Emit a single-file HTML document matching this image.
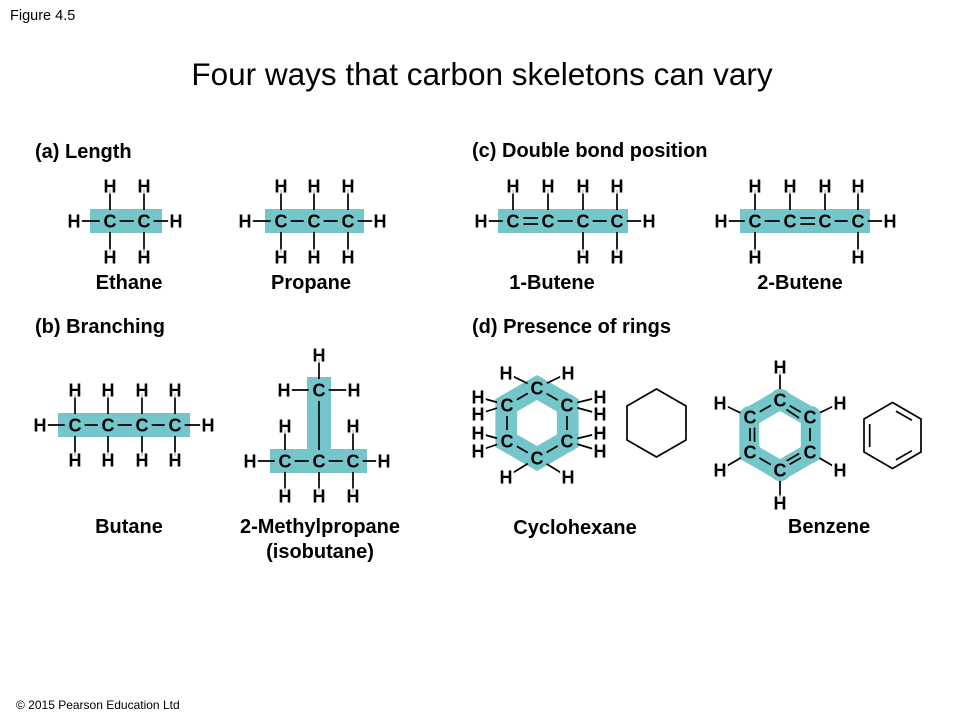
<!DOCTYPE html>
<html><head><meta charset="utf-8"><style>
html,body{margin:0;padding:0;background:#fff;}
svg{display:block;font-family:"Liberation Sans",sans-serif;}
.a{font-weight:bold;font-size:18px;text-anchor:middle;paint-order:stroke;stroke-width:5px;stroke-linejoin:round;}
.c{stroke:#74c6ca;stroke-width:9px;}
.h{stroke:#fff;}
.l{font-weight:bold;font-size:20px;}
.m{text-anchor:middle;}
line,polyline,polygon.k{stroke:#000;stroke-width:1.7;fill:none;}
</style></head><body>
<svg width="960" height="720" viewBox="0 0 960 720">
<text x="10" y="20" font-size="14.5">Figure 4.5</text>
<text x="482" y="85" font-size="31.5" text-anchor="middle">Four ways that carbon skeletons can vary</text>
<text x="35" y="158" class="l">(a) Length</text>
<text x="472" y="157" class="l">(c) Double bond position</text>
<text x="35" y="333" class="l">(b) Branching</text>
<text x="472" y="333" class="l">(d) Presence of rings</text>
<g fill="#74c6ca">
<rect x="90" y="209" width="72" height="24"/>
<rect x="265" y="209" width="99" height="24"/>
<rect x="498" y="209" width="130" height="24"/>
<rect x="740" y="209" width="130" height="24"/>
<rect x="58" y="413" width="132" height="24"/>
<rect x="307" y="377" width="24" height="96"/>
<rect x="270" y="449" width="97" height="24"/>
<path fill-rule="evenodd" d="M537,375 L578.6,399 L578.6,447 L537,471 L495.4,447 L495.4,399 Z M537,400 L556.9,411.5 L556.9,434.5 L537,446 L517.1,434.5 L517.1,411.5 Z"/>
<path fill-rule="evenodd" d="M780,388 L820.7,411.5 L820.7,458.5 L780,482 L739.3,458.5 L739.3,411.5 Z M780,411 L800.8,423 L800.8,447 L780,459 L759.2,447 L759.2,423 Z"/>
</g>
<g>
<line x1="74" y1="221" x2="176" y2="221"/>
<line x1="110" y1="186" x2="110" y2="257"/><line x1="144" y1="186" x2="144" y2="257"/>
<line x1="245" y1="221" x2="380" y2="221"/>
<line x1="281" y1="186" x2="281" y2="257"/><line x1="314" y1="186" x2="314" y2="257"/><line x1="348" y1="186" x2="348" y2="257"/>
<line x1="481" y1="221" x2="513" y2="221"/>
<line x1="513" y1="218" x2="548" y2="218"/><line x1="513" y1="224" x2="548" y2="224"/>
<line x1="548" y1="221" x2="649" y2="221"/>
<line x1="513" y1="186" x2="513" y2="221"/><line x1="548" y1="186" x2="548" y2="221"/>
<line x1="583" y1="186" x2="583" y2="257"/><line x1="617" y1="186" x2="617" y2="257"/>
<line x1="721" y1="221" x2="790" y2="221"/>
<line x1="790" y1="218" x2="825" y2="218"/><line x1="790" y1="224" x2="825" y2="224"/>
<line x1="825" y1="221" x2="890" y2="221"/>
<line x1="755" y1="186" x2="755" y2="257"/><line x1="790" y1="186" x2="790" y2="221"/>
<line x1="825" y1="186" x2="825" y2="221"/><line x1="858" y1="186" x2="858" y2="257"/>
<line x1="40" y1="425" x2="208" y2="425"/>
<line x1="75" y1="390" x2="75" y2="460"/><line x1="108" y1="390" x2="108" y2="460"/>
<line x1="142" y1="390" x2="142" y2="460"/><line x1="175" y1="390" x2="175" y2="460"/>
<line x1="319" y1="355" x2="319" y2="496"/>
<line x1="284" y1="390" x2="354" y2="390"/>
<line x1="250" y1="461" x2="384" y2="461"/>
<line x1="285" y1="426" x2="285" y2="496"/><line x1="353" y1="426" x2="353" y2="496"/>
<polygon class="k" points="537,388 567,405.5 567,440.5 537,458 507,440.5 507,405.5"/>
<line x1="537" y1="388" x2="506" y2="373"/><line x1="537" y1="388" x2="568" y2="373"/>
<line x1="507" y1="405" x2="478" y2="397"/><line x1="507" y1="405" x2="478" y2="414"/>
<line x1="507" y1="441" x2="478" y2="433"/><line x1="507" y1="441" x2="478" y2="451"/>
<line x1="567" y1="405" x2="600" y2="397"/><line x1="567" y1="405" x2="600" y2="414"/>
<line x1="567" y1="441" x2="600" y2="433"/><line x1="567" y1="441" x2="600" y2="451"/>
<line x1="537" y1="458" x2="506" y2="477"/><line x1="537" y1="458" x2="568" y2="477"/>
<polygon class="k" points="656.5,389 686,406 686,440 656.5,457 627,440 627,406"/>
<polygon class="k" points="780,400 810,417.5 810,452.5 780,470 750,452.5 750,417.5"/>
<line x1="786.4" y1="409.5" x2="799.1" y2="417.9"/>
<line x1="754.5" y1="427.6" x2="754.5" y2="442.4"/>
<line x1="786.4" y1="461" x2="799.1" y2="453.6"/>
<line x1="780" y1="367" x2="780" y2="400"/><line x1="780" y1="470" x2="780" y2="503"/>
<line x1="750" y1="417.5" x2="720" y2="403"/><line x1="810" y1="417.5" x2="840" y2="403"/>
<line x1="750" y1="452.5" x2="720" y2="470"/><line x1="810" y1="452.5" x2="840" y2="470"/>
<polygon class="k" points="892.5,402.5 921,419 921,452 892.5,468.5 864,452 864,419"/>
<line x1="869.7" y1="424" x2="869.7" y2="447"/>
<line x1="895.9" y1="411.1" x2="911.9" y2="420.3"/>
<line x1="895.9" y1="459.9" x2="911.9" y2="450.7"/>
</g>
<g class="a">
<text class="h" x="74" y="227.5">H</text><text class="h" x="176" y="227.5">H</text>
<text class="c" x="110" y="227.5">C</text><text class="c" x="144" y="227.5">C</text>
<text class="h" x="110" y="192.5">H</text><text class="h" x="144" y="192.5">H</text>
<text class="h" x="110" y="263.5">H</text><text class="h" x="144" y="263.5">H</text>
<text class="h" x="245" y="227.5">H</text><text class="h" x="380" y="227.5">H</text>
<text class="c" x="281" y="227.5">C</text><text class="c" x="314" y="227.5">C</text><text class="c" x="348" y="227.5">C</text>
<text class="h" x="281" y="192.5">H</text><text class="h" x="314" y="192.5">H</text><text class="h" x="348" y="192.5">H</text>
<text class="h" x="281" y="263.5">H</text><text class="h" x="314" y="263.5">H</text><text class="h" x="348" y="263.5">H</text>
<text class="h" x="481" y="227.5">H</text><text class="h" x="649" y="227.5">H</text>
<text class="c" x="513" y="227.5">C</text><text class="c" x="548" y="227.5">C</text><text class="c" x="583" y="227.5">C</text><text class="c" x="617" y="227.5">C</text>
<text class="h" x="513" y="192.5">H</text><text class="h" x="548" y="192.5">H</text><text class="h" x="583" y="192.5">H</text><text class="h" x="617" y="192.5">H</text>
<text class="h" x="583" y="263.5">H</text><text class="h" x="617" y="263.5">H</text>
<text class="h" x="721" y="227.5">H</text><text class="h" x="890" y="227.5">H</text>
<text class="c" x="755" y="227.5">C</text><text class="c" x="790" y="227.5">C</text><text class="c" x="825" y="227.5">C</text><text class="c" x="858" y="227.5">C</text>
<text class="h" x="755" y="192.5">H</text><text class="h" x="790" y="192.5">H</text><text class="h" x="825" y="192.5">H</text><text class="h" x="858" y="192.5">H</text>
<text class="h" x="755" y="263.5">H</text><text class="h" x="858" y="263.5">H</text>
<text class="h" x="40" y="431.5">H</text><text class="h" x="208" y="431.5">H</text>
<text class="c" x="75" y="431.5">C</text><text class="c" x="108" y="431.5">C</text><text class="c" x="142" y="431.5">C</text><text class="c" x="175" y="431.5">C</text>
<text class="h" x="75" y="396.5">H</text><text class="h" x="108" y="396.5">H</text><text class="h" x="142" y="396.5">H</text><text class="h" x="175" y="396.5">H</text>
<text class="h" x="75" y="466.5">H</text><text class="h" x="108" y="466.5">H</text><text class="h" x="142" y="466.5">H</text><text class="h" x="175" y="466.5">H</text>
<text class="h" x="319" y="361.5">H</text>
<text class="h" x="284" y="396.5">H</text><text class="c" x="319" y="396.5">C</text><text class="h" x="354" y="396.5">H</text>
<text class="h" x="285" y="432.5">H</text><text class="h" x="353" y="432.5">H</text>
<text class="h" x="250" y="467.5">H</text><text class="c" x="285" y="467.5">C</text><text class="c" x="319" y="467.5">C</text><text class="c" x="353" y="467.5">C</text><text class="h" x="384" y="467.5">H</text>
<text class="h" x="285" y="502.5">H</text><text class="h" x="319" y="502.5">H</text><text class="h" x="353" y="502.5">H</text>
<text class="c" x="537" y="394.5">C</text><text class="c" x="507" y="411.5">C</text><text class="c" x="567" y="411.5">C</text>
<text class="c" x="507" y="447.5">C</text><text class="c" x="567" y="447.5">C</text><text class="c" x="537" y="464.5">C</text>
<text class="h" x="506" y="379.5">H</text><text class="h" x="568" y="379.5">H</text>
<text class="h" x="478" y="403.5">H</text><text class="h" x="478" y="420.5">H</text>
<text class="h" x="478" y="439.5">H</text><text class="h" x="478" y="457.5">H</text>
<text class="h" x="600" y="403.5">H</text><text class="h" x="600" y="420.5">H</text>
<text class="h" x="600" y="439.5">H</text><text class="h" x="600" y="457.5">H</text>
<text class="h" x="506" y="483.5">H</text><text class="h" x="568" y="483.5">H</text>
<text class="c" x="780" y="406.5">C</text><text class="c" x="750" y="423.5">C</text><text class="c" x="810" y="423.5">C</text>
<text class="c" x="750" y="458.5">C</text><text class="c" x="810" y="458.5">C</text><text class="c" x="780" y="476.5">C</text>
<text class="h" x="780" y="373.5">H</text><text class="h" x="780" y="509.5">H</text>
<text class="h" x="720" y="409.5">H</text><text class="h" x="840" y="409.5">H</text>
<text class="h" x="720" y="476.5">H</text><text class="h" x="840" y="476.5">H</text>
</g>
<g class="l m">
<text x="129" y="289">Ethane</text>
<text x="311" y="289">Propane</text>
<text x="552" y="289">1-Butene</text>
<text x="800" y="289">2-Butene</text>
<text x="129" y="533">Butane</text>
<text x="320" y="533">2-Methylpropane</text>
<text x="320" y="558">(isobutane)</text>
<text x="575" y="534">Cyclohexane</text>
<text x="829" y="533">Benzene</text>
</g>
<text x="16" y="709" font-size="12">© 2015 Pearson Education Ltd</text>
</svg>
</body></html>
